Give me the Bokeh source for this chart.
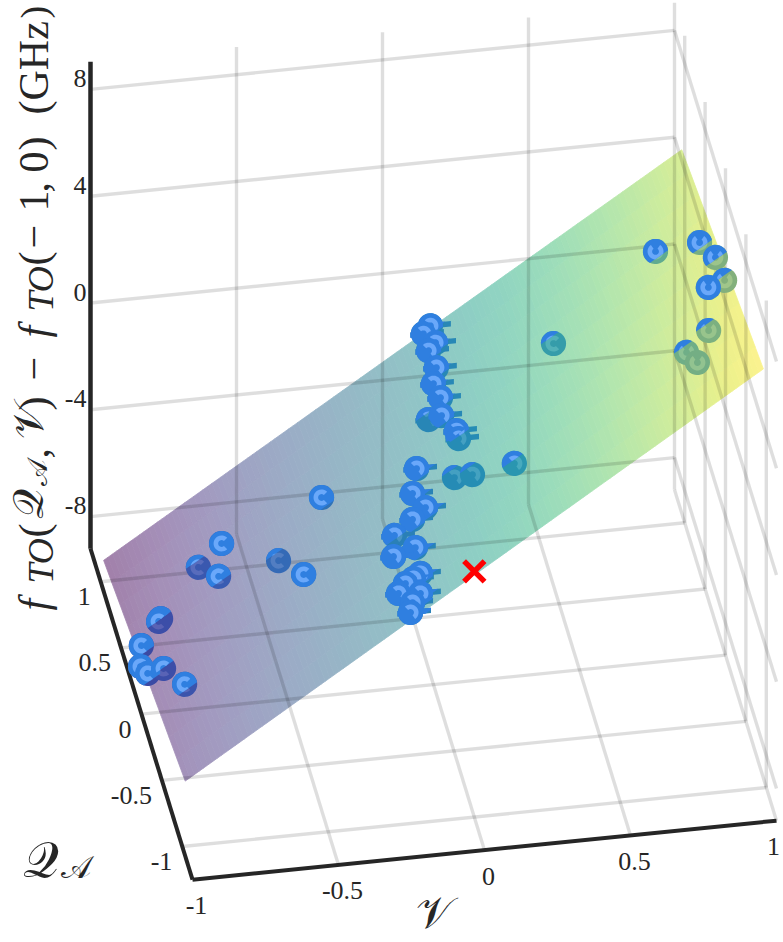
import numpy as np
from bokeh.core.properties import value
from bokeh.embed import file_html
from bokeh.models import Range1d
from bokeh.palettes import Viridis256
from bokeh.plotting import figure
from bokeh.resources import INLINE

# measured points: bias V, charge Q_A, frequency shift (GHz)
V = [-0.349, -0.672, -0.732, -0.701, -0.506, -0.479, -0.894, -0.901, -0.983, -1.005, -0.994, -0.935, -0.902,
     0.808, 0.938, 0.97, 0.98, 0.907, 0.889, 0.807, 0.837, 0.456,
     0.121, 0.094, 0.118, 0.091, 0.095, 0.071, 0.076, 0.04, 0.061, 0.089, 0.1,
     -0.063, -0.099, -0.078, -0.124, -0.181, -0.146, -0.217, -0.157, -0.181, -0.209, -0.238, -0.177, -0.21, -0.227,
     0.055, 0.107, 0.225]
Q = [0.247, 0.385, 0.523, 0.25, 0.176, -0.245, 0.29, 0.289, 0.125, -0.012, -0.107, -0.075, -0.355,
     0.341, 0.192, 0.032, -0.121, -0.245, -0.381, -0.427, -0.478, 0.323,
     0.941, 0.919, 0.794, 0.772, 0.609, 0.509, 0.372, 0.41, 0.238, 0.073, 0.102,
     -0.036, -0.196, -0.363, -0.374, -0.339, -0.6, -0.573, -0.803, -0.804, -0.809, -0.845, -0.947, -0.991, -1.062,
     -0.12, -0.19, -0.372]
F = [-3.03, -5.08, -6.59, -5.61, -4.87, -3.33, -7.18, -7.27, -7.27, -7.35, -7.15, -7.19, -6.43,
     4.44, 5.37, 5.57, 5.46, 5.89, 4.97, 4.47, 4.31, 1.47,
     -0.56, -0.72, -0.46, -0.62, -0.45, -0.53, -0.38, -1.35, -0.37, -0.15, -0.6,
     -0.86, -0.96, -0.68, -1.02, -1.73, -0.93, -1.32, -0.88, -1.04, -1.17, -1.33, -0.89, -0.98, -0.98,
     -0.91, -0.51, 0.68]
# V error bars, only the two central columns have visible ones
V_ERR_LOW = [0] * 22 + [0.045] * 25 + [0] * 3
V_ERR_HIGH = [0] * 22 + [0.07] * 25 + [0] * 3
# which way the highlight on the sphere sits
SHADE = [0] * 13 + [1] * 8 + [0] + [2] * 25 + [2] * 3

REF_POINT = (0, -1, 0)

# fitted plane, f at the four corners (V, Q)
PLANE_V = [-0.99, 0.99]
PLANE_Q = [-1, 1]
PLANE_F = [[-6.76, 6.49], [-8.41, 4.78]]  # rows Q, columns V

V_TICKS = [-1, -0.5, 0, 0.5, 1]
Q_TICKS = [-1, -0.5, 0, 0.5, 1]
F_TICKS = [-8, -4, 0, 4, 8]
V_LABELS = ["-1", "-0.5", "0", "0.5", "1"]
Q_LABELS = ["-1", "-0.5", "0", "0.5", "1"]
F_LABELS = ["-8", "-4", "0", "4", "8"]
V_LIM = (-1, 1)
Q_LIM = (-1.25, 1.25)
F_LIM = (-9.2, 9.04)

INK = "#262626"
BLUE = "#2f7fe0"
LIGHT = "#6aa8fa"
SERIF = value("Liberation Serif")
MATH = value("DejaVu Serif")


def project(v, q, f):
    # the view is far enough away that an affine camera is good enough
    return (433 + 292 * np.asarray(v, float) - 40.8 * np.asarray(q, float),
            438.5 - 29.5 * np.asarray(v, float) - 132.4 * np.asarray(q, float) - 26.7 * np.asarray(f, float))


def plane(v, q):
    tv = (v - PLANE_V[0]) / (PLANE_V[1] - PLANE_V[0])
    tq = (q - PLANE_Q[0]) / (PLANE_Q[1] - PLANE_Q[0])
    low = PLANE_F[0][0] * (1 - tv) + PLANE_F[0][1] * tv
    high = PLANE_F[1][0] * (1 - tv) + PLANE_F[1][1] * tv
    return low * (1 - tq) + high * tq


def to_rgb(c):
    return np.array([int(c[i:i + 2], 16) for i in (1, 3, 5)], float)


def blend(top, under, alpha=0.5):
    m = alpha * to_rgb(top) + (1 - alpha) * to_rgb(under)
    return "#%02x%02x%02x" % tuple(int(round(c)) for c in m)


F_MIN, F_MAX = min(map(min, PLANE_F)), max(map(max, PLANE_F))


def surf_color(f):
    i = int(np.clip((f - F_MIN) / (F_MAX - F_MIN), 0, 1) * 255)
    return Viridis256[i]


def clip(poly, c, n, d):
    # keep the part of poly with (p - c).n > d
    out = []
    for a, b in zip(poly, poly[1:] + poly[:1]):
        sa = (a[0] - c[0]) * n[0] + (a[1] - c[1]) * n[1] - d
        sb = (b[0] - c[0]) * n[0] + (b[1] - c[1]) * n[1] - d
        if sa >= 0:
            out.append(a)
        if sa * sb < 0:
            t = sa / (sa - sb)
            out.append((a[0] + t * (b[0] - a[0]), a[1] + t * (b[1] - a[1])))
    return out


def arc_poly(cx, cy, r0, r1, mid, span):
    th = np.radians(np.linspace(mid - span / 2, mid + span / 2, 24))
    outer = [(cx + r1 * np.cos(t), cy + r1 * np.sin(t)) for t in th]
    inner = [(cx + r0 * np.cos(t), cy + r0 * np.sin(t)) for t in th[::-1]]
    return outer + inner


p = figure(width=783, height=942, x_range=Range1d(0, 783), y_range=Range1d(942, 0),
           output_backend="svg", toolbar_location=None, min_border=0)
p.axis.visible = False
p.grid.visible = False
p.outline_line_color = None

# surface, opaque but mixed with white so that it looks like the translucent original
ve = np.linspace(PLANE_V[0], PLANE_V[1], 129)
qe = np.linspace(PLANE_Q[0], PLANE_Q[1], 11)
sx, sy, sc = [], [], []
for i in range(len(ve) - 1):
    for j in range(len(qe) - 1):
        vv = [ve[i], ve[i + 1], ve[i + 1], ve[i]]
        qq = [qe[j], qe[j], qe[j + 1], qe[j + 1]]
        ff = [plane(a, b) for a, b in zip(vv, qq)]
        x, y = project(vv, qq, ff)
        sx.append(list(x))
        sy.append(list(y))
        sc.append(blend(surf_color(np.mean(ff)), "#ffffff"))
p.patches(sx, sy, fill_color=sc, line_color=sc, line_width=0.8)

# box grid: back wall, right wall, floor
gx, gy = [], []


def grid_line(a, b):
    x, y = project([a[0], b[0]], [a[1], b[1]], [a[2], b[2]])
    gx.append(list(x))
    gy.append(list(y))


for f in F_TICKS:
    grid_line((V_LIM[0], Q_LIM[1], f), (V_LIM[1], Q_LIM[1], f))
    grid_line((V_LIM[1], Q_LIM[1], f), (V_LIM[1], Q_LIM[0], f))
for v in V_TICKS[1:]:
    grid_line((v, Q_LIM[1], F_LIM[0]), (v, Q_LIM[1], F_LIM[1]))
for v in V_TICKS[1:]:
    grid_line((v, Q_LIM[0], F_LIM[0]), (v, Q_LIM[1], F_LIM[0]))
for q in Q_TICKS:
    grid_line((V_LIM[0], q, F_LIM[0]), (V_LIM[1], q, F_LIM[0]))
    grid_line((V_LIM[1], q, F_LIM[0]), (V_LIM[1], q, F_LIM[1]))
p.multi_line(gx, gy, line_color="#000000", line_alpha=0.13, line_width=3.4)

# the three thick axes
ax, ay = project([V_LIM[0], V_LIM[1]], [Q_LIM[0], Q_LIM[0]], [F_LIM[0], F_LIM[0]])
p.line(ax, ay, line_color=INK, line_width=4)
ax, ay = project([V_LIM[0], V_LIM[0]], [Q_LIM[0], Q_LIM[1]], [F_LIM[0], F_LIM[0]])
p.line(ax, ay, line_color=INK, line_width=4)
ax, ay = project([V_LIM[0], V_LIM[0]], [Q_LIM[1], Q_LIM[1]], [F_LIM[0], F_LIM[1]])
p.line(ax, ay, line_color=INK, line_width=4.5)

# markers: everything tinted first (below the plane), then the part above the plane in plain blue
NORMAL = (-0.57, -0.82)
R_OUT = 12.6
ARC = {0: (180, 270), 1: (90, 290), 2: (-40, 190)}
low = {"x": [], "y": [], "c": []}
high = {"x": [], "y": [], "c": []}


def add(store, poly, color):
    if len(poly) > 2:
        store["x"].append([a for a, _ in poly])
        store["y"].append([b for _, b in poly])
        store["c"].append(color)


for v, q, f, e0, e1, s in zip(V, Q, F, V_ERR_LOW, V_ERR_HIGH, SHADE):
    cx, cy = project(v, q, f)
    cx, cy = float(cx), float(cy)
    chord = -20 * (f - plane(v, q))
    under = surf_color(plane(v, q))
    disc = [(cx + R_OUT * np.cos(t), cy + R_OUT * np.sin(t)) for t in np.linspace(0, 2 * np.pi, 40)[:-1]]
    ring = arc_poly(cx, cy, 3.4, 8, *ARC[s])
    if e1:
        x0, y0 = project(v - e0, q, f)
        x1, y1 = project(v + e1, q, f)
        stem = [(float(x0), float(y0) - 2.7), (float(x1), float(y1) - 2.7),
                (float(x1), float(y1) + 2.7), (float(x0), float(y0) + 2.7)]
        add(low, stem, blend(under, BLUE))
        add(high, clip(stem, (cx, cy), NORMAL, chord + 3), BLUE)
    for poly, col in [(disc, BLUE), (ring, LIGHT)]:
        add(low, poly, blend(under, col))
        add(high, clip(poly, (cx, cy), NORMAL, chord), col)

p.patches(low["x"], low["y"], fill_color=low["c"], line_color=None)
p.patches(high["x"], high["y"], fill_color=high["c"], line_color=None)

rx, ry = project(*REF_POINT)
p.scatter([float(rx)], [float(ry)], marker="x", size=29, line_color="#ff0000", line_width=5.5)

# tick labels
x, y = project(V_TICKS, [Q_LIM[0]] * 5, [F_LIM[0]] * 5)
x[-1] -= 7  # keeps the last label inside the page
p.text(x + 4, y + 26, text=V_LABELS, text_font=SERIF, text_font_size="26px", text_color=INK,
       text_align="center", text_baseline="middle")
x, y = project([V_LIM[0]] * 5, Q_TICKS, [F_LIM[0]] * 5)
p.text(x - 10, y + 15, text=Q_LABELS, text_font=SERIF, text_font_size="26px", text_color=INK,
       text_align="right", text_baseline="middle")
x, y = project([V_LIM[0]] * 5, [Q_LIM[1]] * 5, F_TICKS)
p.text(x - 4, y - 11, text=F_LABELS, text_font=SERIF, text_font_size="26px", text_color=INK,
       text_align="right", text_baseline="middle")

# axis titles
p.text([415], [912], text=["\U0001D4B1"], text_font=MATH, text_font_size="44px", text_color=INK, text_baseline="alphabetic")
p.text([22], [859], text=["\U0001D4AC"], text_font=MATH, text_font_size="50px", text_color=INK, text_baseline="alphabetic")
p.text([60], [866], text=["\U0001D49C"], text_font=MATH, text_font_size="32px", text_color=INK, text_baseline="alphabetic")

# long rotated title, set piece by piece from the bottom up
TITLE = [("f", 610, 33, 42, SERIF, "italic"), ("TO", 583, 40, 36, SERIF, "italic"), ("(", 537, 33, 42, SERIF, "normal"),
         ("\U0001D4AC", 518, 28, 42, MATH, "normal"), ("\U0001D49C", 485, 37, 28, MATH, "normal"),
         (",", 458, 33, 42, SERIF, "normal"), ("\U0001D4B1", 438, 28, 42, MATH, "normal"),
         (")", 410, 33, 42, SERIF, "normal"), ("\u2212", 380, 33, 42, SERIF, "normal"),
         ("f", 337, 33, 42, SERIF, "italic"), ("TO", 311, 40, 36, SERIF, "italic"), ("(", 265, 33, 42, SERIF, "normal"),
         ("\u2212", 248, 33, 42, SERIF, "normal"), ("1", 211, 33, 42, SERIF, "normal"), (",", 192, 33, 42, SERIF, "normal"),
         ("0", 172, 33, 42, SERIF, "normal"), (")", 150, 33, 42, SERIF, "normal"), ("(", 114, 33, 42, SERIF, "normal"),
         ("GHz", 100, 33, 42, SERIF, "normal"), (")", 18, 33, 38, SERIF, "normal")]
for txt, ty, tx, size, font, style in TITLE:
    p.text([tx], [ty], text=[txt], angle=np.pi / 2, text_font=font, text_font_size="%dpx" % size,
           text_font_style=style, text_color=INK, text_align="left", text_baseline="alphabetic")

open("out.html", "w").write(file_html(p, INLINE))
